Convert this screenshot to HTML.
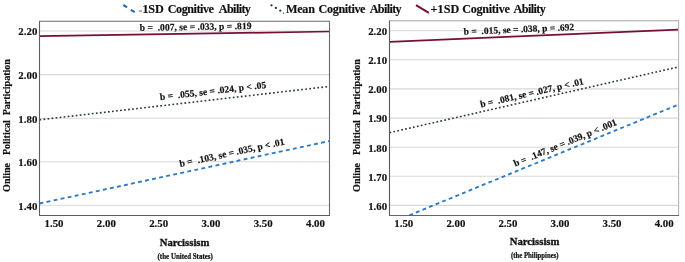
<!DOCTYPE html>
<html><head><meta charset="utf-8"><style>
html,body{margin:0;padding:0;background:#fff;}
body{width:685px;height:262px;overflow:hidden;}
svg{display:block;filter:blur(0.5px);font-family:"Liberation Serif",serif;font-weight:bold;}
text{fill:#111;stroke:#111;stroke-width:0.18px;}
</style></head><body>
<svg width="685" height="262" viewBox="0 0 685 262" font-family="Liberation Serif" font-weight="bold">
<rect width="685" height="262" fill="#fff"/>
<defs>
<clipPath id="c0"><rect x="39.5" y="21.3" width="290.00" height="193.70"/></clipPath>
<clipPath id="c1"><rect x="389.5" y="20.7" width="289.10" height="194.30"/></clipPath>
</defs>
<line x1="39.5" y1="31.0" x2="329.5" y2="31.0" stroke="#d8d8d8" stroke-width="1.1"/>
<line x1="39.5" y1="74.6" x2="329.5" y2="74.6" stroke="#d8d8d8" stroke-width="1.1"/>
<line x1="39.5" y1="118.2" x2="329.5" y2="118.2" stroke="#d8d8d8" stroke-width="1.1"/>
<line x1="39.5" y1="161.7" x2="329.5" y2="161.7" stroke="#d8d8d8" stroke-width="1.1"/>
<line x1="39.5" y1="205.3" x2="329.5" y2="205.3" stroke="#d8d8d8" stroke-width="1.1"/>
<g clip-path="url(#c0)">
<line x1="39.5" y1="36.2" x2="329.5" y2="31.5" stroke="#780e36" stroke-width="1.75"/>
<line x1="39.5" y1="119.8" x2="329.5" y2="86.4" stroke="#2a3c37" stroke-width="1.6" stroke-dasharray="1.75 2.303"/>
<line x1="39.5" y1="203.5" x2="329.5" y2="141.0" stroke="#2a78c6" stroke-width="1.85" stroke-dasharray="3.9 3.3"/>
</g>
<line x1="39.0" y1="21.3" x2="330.0" y2="21.3" stroke="#6a6a6a" stroke-width="1.1"/>
<line x1="329.5" y1="21.3" x2="329.5" y2="215.4" stroke="#6a6a6a" stroke-width="1.1"/>
<line x1="39.0" y1="215.4" x2="330.0" y2="215.4" stroke="#5a5a5a" stroke-width="1.05"/>
<line x1="39.5" y1="21.3" x2="39.5" y2="215.4" stroke="#5e5e5e" stroke-width="1.1"/>
<text x="37.30" y="35.30" font-size="11.4" text-anchor="end" textLength="18.95" lengthAdjust="spacingAndGlyphs" >2.20</text>
<text x="37.30" y="78.90" font-size="11.4" text-anchor="end" textLength="18.95" lengthAdjust="spacingAndGlyphs" >2.00</text>
<text x="37.30" y="122.50" font-size="11.4" text-anchor="end" textLength="18.95" lengthAdjust="spacingAndGlyphs" >1.80</text>
<text x="37.30" y="166.00" font-size="11.4" text-anchor="end" textLength="18.95" lengthAdjust="spacingAndGlyphs" >1.60</text>
<text x="37.30" y="209.60" font-size="11.4" text-anchor="end" textLength="18.95" lengthAdjust="spacingAndGlyphs" >1.40</text>
<text x="54.05" y="227.30" font-size="11.4" text-anchor="middle" textLength="18.95" lengthAdjust="spacingAndGlyphs" >1.50</text>
<text x="106.33" y="227.30" font-size="11.4" text-anchor="middle" textLength="18.95" lengthAdjust="spacingAndGlyphs" >2.00</text>
<text x="158.61" y="227.30" font-size="11.4" text-anchor="middle" textLength="18.95" lengthAdjust="spacingAndGlyphs" >2.50</text>
<text x="210.89" y="227.30" font-size="11.4" text-anchor="middle" textLength="18.95" lengthAdjust="spacingAndGlyphs" >3.00</text>
<text x="263.17" y="227.30" font-size="11.4" text-anchor="middle" textLength="18.95" lengthAdjust="spacingAndGlyphs" >3.50</text>
<text x="315.45" y="227.30" font-size="11.4" text-anchor="middle" textLength="18.95" lengthAdjust="spacingAndGlyphs" >4.00</text>
<text x="184.60" y="245.80" font-size="11.1" text-anchor="middle" textLength="49.70" lengthAdjust="spacingAndGlyphs" style="stroke-width:0.3px">Narcissism</text>
<text x="185.20" y="258.60" font-size="7.2" text-anchor="middle" textLength="55.30" lengthAdjust="spacingAndGlyphs" style="stroke-width:0.22px">(the United States)</text>
<text transform="translate(9.8,191.9) rotate(-90)" font-size="10">Online</text>
<text transform="translate(9.8,155.1) rotate(-90)" font-size="10">Political</text>
<text transform="translate(9.8,115.3) rotate(-90)" font-size="10">Participation</text>
<line x1="389.5" y1="30.7" x2="678.6" y2="30.7" stroke="#d8d8d8" stroke-width="1.1"/>
<line x1="389.5" y1="59.8" x2="678.6" y2="59.8" stroke="#d8d8d8" stroke-width="1.1"/>
<line x1="389.5" y1="88.9" x2="678.6" y2="88.9" stroke="#d8d8d8" stroke-width="1.1"/>
<line x1="389.5" y1="118.1" x2="678.6" y2="118.1" stroke="#d8d8d8" stroke-width="1.1"/>
<line x1="389.5" y1="147.2" x2="678.6" y2="147.2" stroke="#d8d8d8" stroke-width="1.1"/>
<line x1="389.5" y1="176.3" x2="678.6" y2="176.3" stroke="#d8d8d8" stroke-width="1.1"/>
<line x1="389.5" y1="205.4" x2="678.6" y2="205.4" stroke="#d8d8d8" stroke-width="1.1"/>
<g clip-path="url(#c1)">
<line x1="389.5" y1="41.9" x2="678.6" y2="29.6" stroke="#780e36" stroke-width="1.75"/>
<line x1="389.5" y1="132.7" x2="678.6" y2="66.9" stroke="#2a3c37" stroke-width="1.6" stroke-dasharray="1.75 2.26"/>
<line x1="389.5" y1="223.4" x2="678.6" y2="104.5" stroke="#2a78c6" stroke-width="1.85" stroke-dasharray="3.85 3.28"/>
</g>
<line x1="389.0" y1="20.7" x2="679.1" y2="20.7" stroke="#a4a4a4" stroke-width="1.1"/>
<line x1="678.6" y1="20.7" x2="678.6" y2="215.4" stroke="#b4b4b4" stroke-width="1.1"/>
<line x1="389.0" y1="215.4" x2="679.1" y2="215.4" stroke="#666666" stroke-width="1.05"/>
<line x1="389.5" y1="20.7" x2="389.5" y2="215.4" stroke="#5a5a5a" stroke-width="1.1"/>
<text x="387.10" y="35.00" font-size="11.4" text-anchor="end" textLength="18.95" lengthAdjust="spacingAndGlyphs" >2.20</text>
<text x="387.10" y="64.10" font-size="11.4" text-anchor="end" textLength="18.95" lengthAdjust="spacingAndGlyphs" >2.10</text>
<text x="387.10" y="93.20" font-size="11.4" text-anchor="end" textLength="18.95" lengthAdjust="spacingAndGlyphs" >2.00</text>
<text x="387.10" y="122.40" font-size="11.4" text-anchor="end" textLength="18.95" lengthAdjust="spacingAndGlyphs" >1.90</text>
<text x="387.10" y="151.50" font-size="11.4" text-anchor="end" textLength="18.95" lengthAdjust="spacingAndGlyphs" >1.80</text>
<text x="387.10" y="180.60" font-size="11.4" text-anchor="end" textLength="18.95" lengthAdjust="spacingAndGlyphs" >1.70</text>
<text x="387.10" y="209.70" font-size="11.4" text-anchor="end" textLength="18.95" lengthAdjust="spacingAndGlyphs" >1.60</text>
<text x="403.80" y="227.30" font-size="11.4" text-anchor="middle" textLength="18.95" lengthAdjust="spacingAndGlyphs" >1.50</text>
<text x="455.86" y="227.30" font-size="11.4" text-anchor="middle" textLength="18.95" lengthAdjust="spacingAndGlyphs" >2.00</text>
<text x="507.92" y="227.30" font-size="11.4" text-anchor="middle" textLength="18.95" lengthAdjust="spacingAndGlyphs" >2.50</text>
<text x="559.98" y="227.30" font-size="11.4" text-anchor="middle" textLength="18.95" lengthAdjust="spacingAndGlyphs" >3.00</text>
<text x="612.04" y="227.30" font-size="11.4" text-anchor="middle" textLength="18.95" lengthAdjust="spacingAndGlyphs" >3.50</text>
<text x="664.10" y="227.30" font-size="11.4" text-anchor="middle" textLength="18.95" lengthAdjust="spacingAndGlyphs" >4.00</text>
<text x="534.60" y="245.30" font-size="11.1" text-anchor="middle" textLength="49.70" lengthAdjust="spacingAndGlyphs" style="stroke-width:0.3px">Narcissism</text>
<text x="534.80" y="258.00" font-size="7.2" text-anchor="middle" textLength="47.60" lengthAdjust="spacingAndGlyphs" style="stroke-width:0.22px">(the Philippines)</text>
<text transform="translate(359.8,191.9) rotate(-90)" font-size="10">Online</text>
<text transform="translate(359.8,155.1) rotate(-90)" font-size="10">Political</text>
<text transform="translate(359.8,115.3) rotate(-90)" font-size="10">Participation</text>
<text transform="translate(139.70,30.80) rotate(-0.929)" font-size="9.6" xml:space="preserve">b =  .007, se = .033, p = .819</text>
<text transform="translate(160.20,100.20) rotate(-6.570)" font-size="9.6" xml:space="preserve">b =  .055, se = .024, p &lt; .05</text>
<text transform="translate(180.30,167.00) rotate(-12.162)" font-size="9.6" xml:space="preserve">b =  .103, se = .035, p &lt; .01</text>
<text transform="translate(463.80,34.80) rotate(-2.436)" font-size="9.6" xml:space="preserve" textLength="110.55" lengthAdjust="spacingAndGlyphs">b =  .015, se = .038, p = .692</text>
<text transform="translate(481.00,107.60) rotate(-12.822)" font-size="9.6" xml:space="preserve" textLength="105.81" lengthAdjust="spacingAndGlyphs">b =  .081, se = .027, p &lt; .01</text>
<text transform="translate(515.20,166.80) rotate(-22.356)" font-size="9.6" xml:space="preserve" textLength="110.55" lengthAdjust="spacingAndGlyphs">b =  .147, se = .039, p &lt; .001</text>
<line x1="123.3" y1="5.0" x2="127.1" y2="7.3" stroke="#2068ba" stroke-width="2.1"/>
<line x1="130.9" y1="9.9" x2="134.7" y2="12.2" stroke="#2068ba" stroke-width="2.1"/>
<circle cx="271.5" cy="5.3" r="1.15" fill="#2a3c37"/>
<circle cx="275.9" cy="7.9" r="1.15" fill="#2a3c37"/>
<circle cx="280.3" cy="10.7" r="1.15" fill="#2a3c37"/>
<circle cx="283.6" cy="13.2" r="0.8" fill="#5a6a66"/>
<rect x="138.7" y="10.4" width="3.4" height="1.2" fill="#808080"/>
<line x1="416.0" y1="5.2" x2="428.8" y2="12.9" stroke="#780e36" stroke-width="2"/>
<text transform="translate(142.50,13.3) scale(1,1.07)" font-size="12.2" textLength="21.20" lengthAdjust="spacing" style="stroke-width:0.15px">1SD</text>
<text transform="translate(167.70,13.3) scale(1,1.07)" font-size="12.2" textLength="46.35" lengthAdjust="spacing" style="stroke-width:0.15px">Cognitive</text>
<text transform="translate(218.80,13.3) scale(1,1.07)" font-size="12.2" textLength="32.13" lengthAdjust="spacing" style="stroke-width:0.15px">Ability</text>
<text transform="translate(286.10,13.3) scale(1,1.07)" font-size="12.2" textLength="28.82" lengthAdjust="spacing" style="stroke-width:0.15px">Mean</text>
<text transform="translate(318.60,13.3) scale(1,1.07)" font-size="12.2" textLength="46.95" lengthAdjust="spacing" style="stroke-width:0.15px">Cognitive</text>
<text transform="translate(369.70,13.3) scale(1,1.07)" font-size="12.2" textLength="32.03" lengthAdjust="spacing" style="stroke-width:0.15px">Ability</text>
<text transform="translate(430.60,13.3) scale(1,1.07)" font-size="12.2" textLength="28.65" lengthAdjust="spacing" style="stroke-width:0.15px">+1SD</text>
<text transform="translate(462.30,13.3) scale(1,1.07)" font-size="12.2" textLength="47.55" lengthAdjust="spacing" style="stroke-width:0.15px">Cognitive</text>
<text transform="translate(513.50,13.3) scale(1,1.07)" font-size="12.2" textLength="32.43" lengthAdjust="spacing" style="stroke-width:0.15px">Ability</text>
</svg>
</body></html>
